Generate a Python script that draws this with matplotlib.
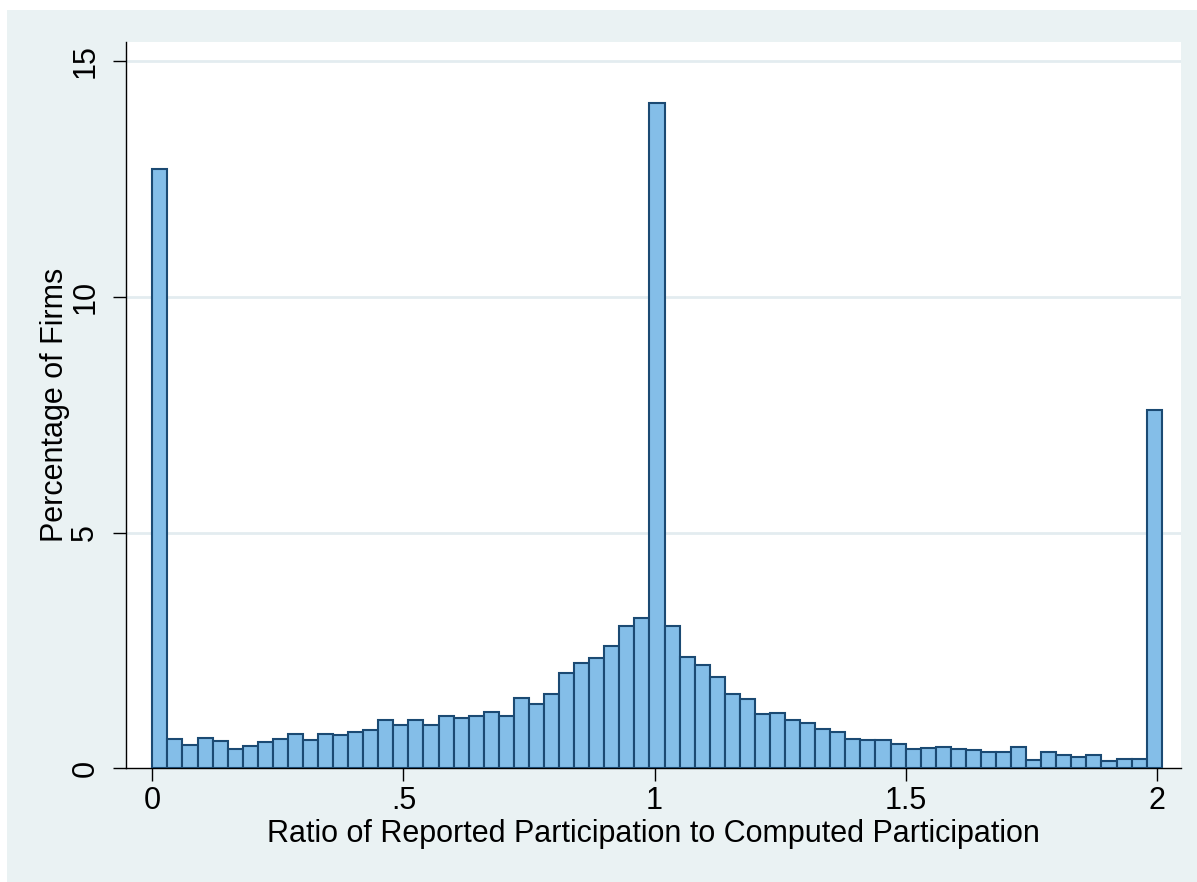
import numpy as np
import matplotlib
matplotlib.use("Agg")
import matplotlib.pyplot as plt
from matplotlib.patches import Rectangle

plt.rcParams['font.family'] = ['Liberation Sans', 'DejaVu Sans']

# Histogram of the reported / computed participation ratio (bin width 0.03, starting at 0)
bin_width = 0.03
pct_firms = [
    12.72, 0.63, 0.50, 0.64, 0.57, 0.40, 0.47, 0.56, 0.62, 0.72,
    0.60, 0.73, 0.70, 0.77, 0.81, 1.03, 0.92, 1.02, 0.92, 1.11,
    1.06, 1.10, 1.20, 1.10, 1.50, 1.37, 1.57, 2.02, 2.24, 2.34,
    2.60, 3.02, 3.18, 14.12, 3.02, 2.36, 2.20, 1.94, 1.57, 1.48,
    1.15, 1.18, 1.03, 0.97, 0.84, 0.78, 0.62, 0.60, 0.60, 0.52,
    0.40, 0.43, 0.45, 0.40, 0.39, 0.35, 0.35, 0.45, 0.18, 0.34,
    0.28, 0.25, 0.28, 0.16, 0.20, 0.20, 7.60,
]
x_ticks = [0, 0.5, 1, 1.5, 2]
x_tick_labels = ["0", ".5", "1", "1.5", "2"]
y_ticks = [0, 5, 10, 15]
y_tick_labels = ["0", "5", "10", "15"]
x_title = "Ratio of Reported Participation to Computed Participation"
y_title = "Percentage of Firms"

W, H, DPI = 1197, 882, 100
fig = plt.figure(figsize=(W / DPI, H / DPI), dpi=DPI, facecolor="white")

# graph region background
fig.patches.append(Rectangle((7 / W, 0), (W - 7) / W, (H - 10) / H,
                             transform=fig.transFigure, facecolor="#EAF2F3",
                             edgecolor="none", zorder=-1))

left, right, top, bottom = 126, 1181, 42, 768.3
ax = fig.add_axes([left / W, 1 - bottom / H, (right - left) / W, (bottom - top) / H])
ax.set_facecolor("white")
ax.set_zorder(1)

edges = np.arange(len(pct_firms)) * bin_width
ax.bar(edges, pct_firms, width=bin_width, align="edge",
       color="#84BEE8", edgecolor="#1B4A73", linewidth=1.5, zorder=3)

ax.set_xlim(-0.0524, 2.0484)
ax.set_ylim(0, 15.41)

ax.set_yticks(y_ticks)
ax.set_yticklabels(y_tick_labels, rotation=90, va="center")
ax.set_xticks(x_ticks)
ax.set_xticklabels(x_tick_labels)

for y in y_ticks[1:]:
    ax.axhline(y, color="#E3ECF0", linewidth=2.0, zorder=1)

for side in ("top", "right"):
    ax.spines[side].set_visible(False)
for side in ("left", "bottom"):
    ax.spines[side].set_linewidth(1.0)
    ax.spines[side].set_color("black")

ax.tick_params(axis="both", length=9.5, width=1.0, color="black",
               labelsize=22, labelcolor="black")
ax.tick_params(axis="x", pad=3)
ax.tick_params(axis="y", pad=9)

fig.text(653.5 / W, 1 - 841.7 / H, x_title, ha="center", va="baseline",
         fontsize=22, zorder=2)
fig.text(55 / W, 1 - 405 / H, y_title, ha="center", va="center",
         rotation=90, fontsize=22, zorder=2)

fig.savefig("out.png", dpi=DPI, facecolor="white")
